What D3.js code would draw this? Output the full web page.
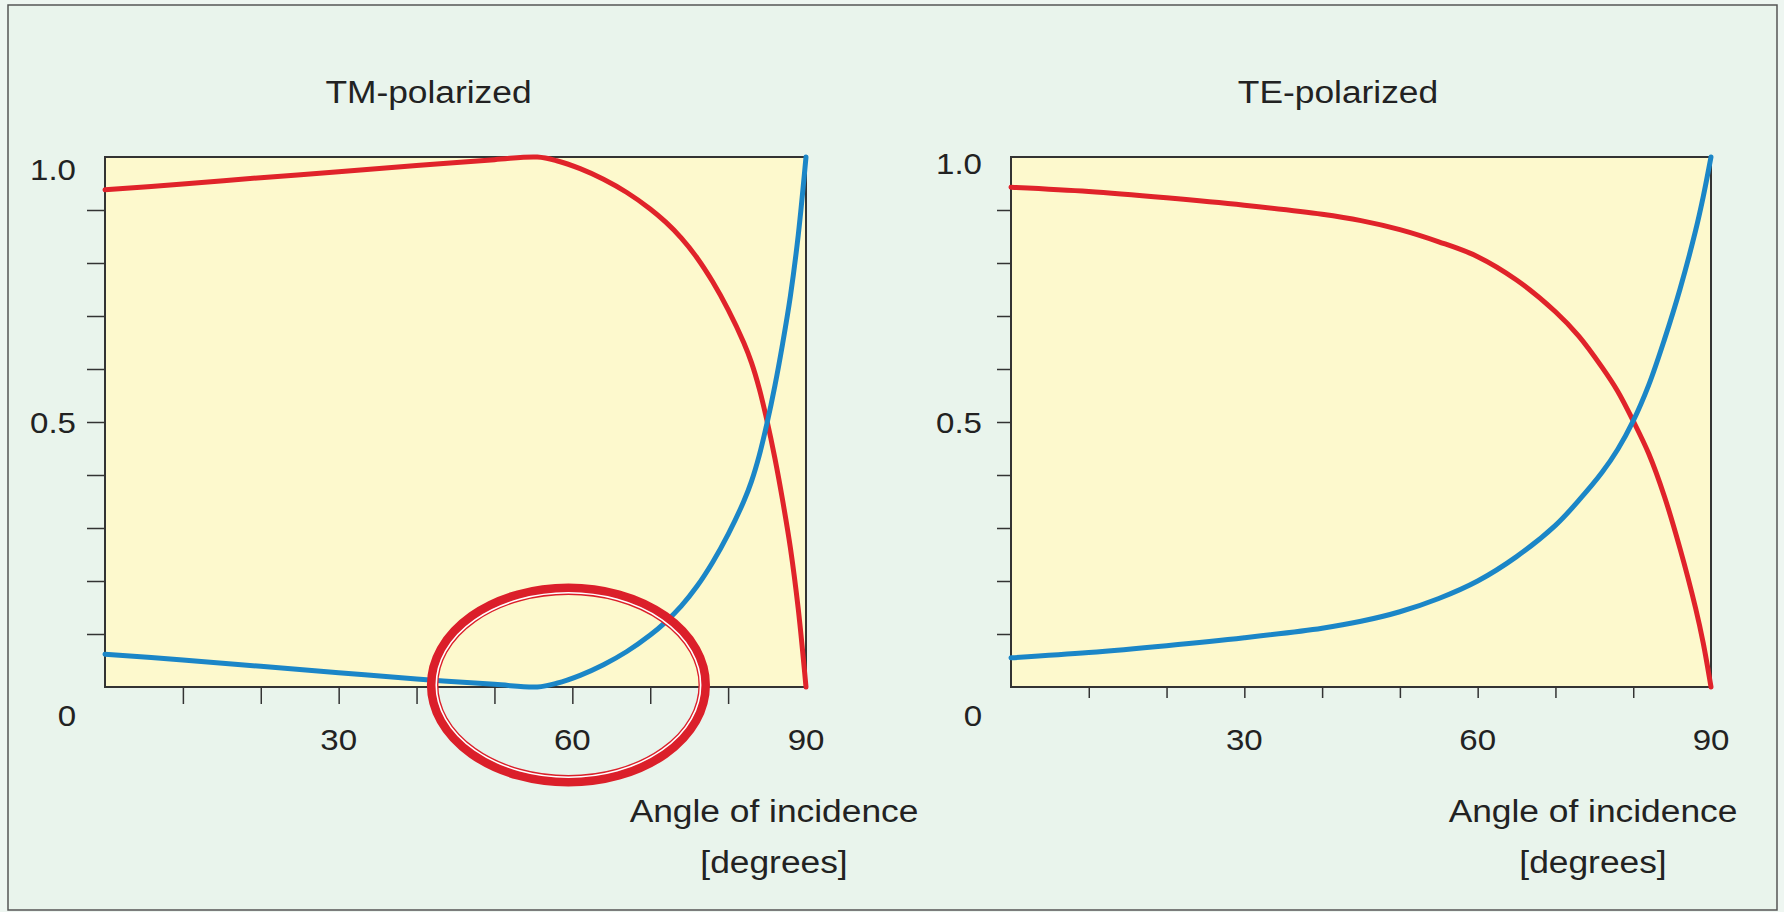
<!DOCTYPE html>
<html lang="en">
<head>
<meta charset="UTF-8">
<title>TM / TE polarized</title>
<script src="https://cdn.jsdelivr.net/npm/d3@7"></script>
<style>
  body { margin: 0; background: #eef6f1; }
  svg text { font-family: "Liberation Sans", Arial, sans-serif; fill: #222; }
  .tick line { stroke: #333; stroke-width: 1.5; }
  .frame { fill: #fdf9cd; stroke: #333; stroke-width: 2; }
</style>
</head>
<body>
<div id="chart"></div>
<script>
// values (angle in degrees, fraction 0..1)
const tmRedAngles  = [0, 10, 20, 30, 40, 50, 55.5, 58, 61, 64, 67, 70, 72, 74, 76, 78, 80, 82, 83, 84, 85, 86, 87, 88, 89, 90];
const tmRedValues  = [0.938, 0.949, 0.961, 0.972, 0.984, 0.995, 1.0, 0.993, 0.978, 0.958, 0.933, 0.902, 0.877, 0.847, 0.810, 0.765, 0.712, 0.650, 0.612, 0.563, 0.502, 0.432, 0.352, 0.262, 0.148, 0];
const tmBlueAngles = [0, 10, 20, 30, 40, 50, 55.5, 58, 61, 64, 67, 70, 72, 74, 76, 78, 80, 82, 83, 84, 85, 86, 87, 88, 89, 90];
const tmBlueValues = [0.062, 0.051, 0.039, 0.027, 0.015, 0.005, 0.0, 0.007, 0.022, 0.042, 0.067, 0.098, 0.123, 0.153, 0.190, 0.235, 0.288, 0.350, 0.388, 0.437, 0.498, 0.568, 0.648, 0.738, 0.852, 1.0];

const teRedAngles  = [0, 10, 20, 30, 40, 45, 50, 55, 60, 65, 70, 73, 76, 78, 80, 82, 84, 86, 88, 89, 90];
const teRedValues  = [0.943, 0.935, 0.923, 0.909, 0.892, 0.880, 0.863, 0.840, 0.812, 0.768, 0.708, 0.662, 0.603, 0.558, 0.502, 0.440, 0.360, 0.262, 0.150, 0.083, 0];
const teBlueAngles = [0, 10, 20, 30, 40, 45, 50, 55, 60, 65, 70, 73, 76, 78, 80, 82, 84, 86, 88, 89, 90];
const teBlueValues = [0.055, 0.065, 0.078, 0.093, 0.111, 0.124, 0.142, 0.167, 0.200, 0.246, 0.305, 0.352, 0.405, 0.448, 0.502, 0.570, 0.655, 0.750, 0.860, 0.925, 1.0];

const titles = ["TM-polarized", "TE-polarized"];
const xTickLabels = ["30", "60", "90"];
const yTickLabels = ["0.5", "1.0"];
const xMinorTicks = [10, 20, 30, 40, 50, 60, 70, 80];
const yMinorTicks = [0.1, 0.2, 0.3, 0.4, 0.5, 0.6, 0.7, 0.8, 0.9];
const xLabelLines = ["Angle of incidence", "[degrees]"];

const red = "#e0232a", blue = "#1b86c7";
const W = 1784, H = 912;
const stretch = 1.14; // the lettering in the picture is a little wide

const svg = d3.select("#chart").append("svg")
    .attr("width", W)
    .attr("height", H);

svg.append("rect")
    .attr("x", 8).attr("y", 5)
    .attr("width", 1769).attr("height", 905)
    .attr("fill", "#e9f4ec")
    .attr("stroke", "#555")
    .attr("stroke-width", 1.5);

function label(g, x, y, txt, size, anchor) {
    g.append("text")
        .attr("transform", `translate(${x},${y}) scale(${stretch},1)`)
        .attr("text-anchor", anchor || "middle")
        .style("font-size", size + "px")
        .text(txt);
}

const panels = [
    { x0: 105, x1: 806, tickX: 17, tickY: 18, titleDx: -27, labelX: 774, oneDy: 12,
      series: [[tmRedAngles, tmRedValues, red], [tmBlueAngles, tmBlueValues, blue]] },
    { x0: 1011, x1: 1711, tickX: 11, tickY: 14, titleDx: -23, labelX: 1593, oneDy: 6,
      series: [[teRedAngles, teRedValues, red], [teBlueAngles, teBlueValues, blue]] }
];

panels.forEach((p, i) => {
    const x = d3.scaleLinear().domain([0, 90]).range([p.x0, p.x1]);
    const y = d3.scaleLinear().domain([0, 1]).range([687, 157]);
    const g = svg.append("g");

    g.append("rect")
        .attr("class", "frame")
        .attr("x", x(0)).attr("y", y(1))
        .attr("width", x(90) - x(0))
        .attr("height", y(0) - y(1));

    // minor ticks, outside the frame
    const xa = g.append("g")
        .attr("transform", `translate(0,${y(0)})`)
        .call(d3.axisBottom(x).tickValues(xMinorTicks).tickSize(p.tickX).tickFormat(""));
    xa.select(".domain").remove();
    const ya = g.append("g")
        .attr("transform", `translate(${x(0)},0)`)
        .call(d3.axisLeft(y).tickValues(yMinorTicks).tickSize(p.tickY).tickFormat(""));
    ya.select(".domain").remove();

    // curves
    const line = d3.line()
        .x(d => x(d[0]))
        .y(d => y(d[1]))
        .curve(d3.curveCatmullRom.alpha(0.5));
    p.series.forEach(s => {
        const pts = s[0].map((a, k) => [a, s[1][k]]);
        g.append("path")
            .datum(pts)
            .attr("d", line)
            .attr("fill", "none")
            .attr("stroke", s[2])
            .attr("stroke-width", 5)
            .attr("stroke-linecap", "round");
    });

    // tick labels
    xTickLabels.forEach(t => label(g, x(+t), 750, t, 29));
    label(g, x(0) - 38, 726, "0", 29);
    label(g, x(0) - 29, y(0.5) + 11, yTickLabels[0], 29, "end");
    label(g, x(0) - 29, y(1) + p.oneDy + 11, yTickLabels[1], 29, "end");

    // titles and axis label
    label(g, (x(0) + x(90)) / 2 + p.titleDx, 103, titles[i], 31);
    label(g, p.labelX, 822, xLabelLines[0], 31);
    label(g, p.labelX, 873, xLabelLines[1], 31);

    // highlight ring around the Brewster minimum
    if (i === 0) {
        const cx = x(59.5), cy = y(0) - 2;
        g.append("ellipse")
            .attr("cx", cx).attr("cy", cy)
            .attr("rx", 135.8).attr("ry", 95.8)
            .attr("fill", "none")
            .attr("stroke", "#db1f2a")
            .attr("stroke-width", 11.5);
        g.append("ellipse")
            .attr("cx", cx).attr("cy", cy)
            .attr("rx", 132.2).attr("ry", 92.2)
            .attr("fill", "none")
            .attr("stroke", "#fff")
            .attr("stroke-width", 1.6);
    }
});
</script>
</body>
</html>
